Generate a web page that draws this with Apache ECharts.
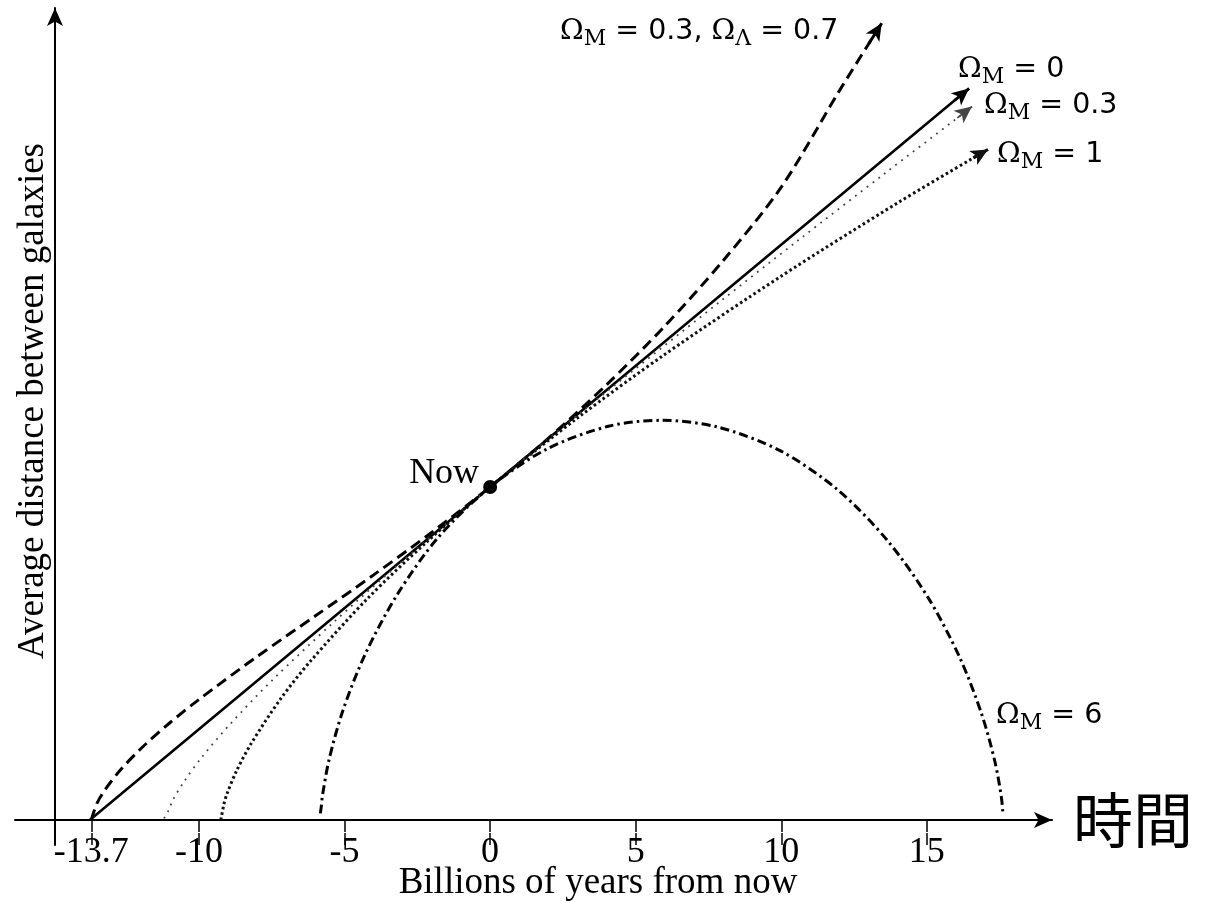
<!DOCTYPE html>
<html>
<head>
<meta charset="utf-8">
<script src="https://cdn.jsdelivr.net/npm/echarts@6/dist/echarts.min.js"></script>
<style>html,body{margin:0;padding:0;background:#fff}#c{width:1221px;height:901px}</style>
</head>
<body>
<div id="c"></div>
<script>
// Time in billions of years from now (x), average distance between galaxies relative to now (y)
const tickValues = [-13.7, -10, -5, 0, 5, 10, 15];
const omega0 = [[-13.75, 0], [0, 1], [15.95, 2.16], [16.45, 2.196]];
const omega03 = [[-11.2, 0.005], [-11.06, 0.027], [-10.88, 0.063], [-10.51, 0.116], [-9.89, 0.19], [-8.91, 0.29], [-7.47, 0.421], [-5.4, 0.592], [-3.18, 0.765], [0, 1], [3.29, 1.236], [7.86, 1.554], [10.56, 1.739], [13.58, 1.943], [16.05, 2.108], [16.55, 2.142]];
const omega1 = [[-9.25, 0], [-9.14, 0.049], [-9.04, 0.078], [-8.73, 0.144], [-8.22, 0.228], [-7.21, 0.362], [-6.2, 0.474], [-4.2, 0.666], [-2.2, 0.833], [0, 1], [3, 1.207], [6, 1.398], [10, 1.633], [14, 1.853], [16.6, 1.988], [17.1, 2.013]];
const omega6 = [[-5.83, 0.02], [-5.8, 0.04], [-5.76, 0.073], [-5.53, 0.182], [-5.06, 0.328], [-4.29, 0.498], [-3.19, 0.677], [-1.77, 0.85], [0, 1], [1.95, 1.114], [4.1, 1.183], [5.89, 1.2], [7.81, 1.18], [9.96, 1.109], [11.93, 0.992], [13.64, 0.84], [15.05, 0.667], [16.13, 0.488], [16.88, 0.319], [17.34, 0.175], [17.56, 0.069], [17.61, 0.024]];
const lambdaCDM = [[-13.7, 0], [-13.5, 0.051], [-13.2, 0.094], [-12.7, 0.15], [-12, 0.214], [-11, 0.292], [-10, 0.362], [-8, 0.491], [-6, 0.613], [-4, 0.736], [-2, 0.864], [0, 1], [2, 1.146], [4, 1.307], [6, 1.483], [8, 1.679], [10, 1.9], [12, 2.19], [13, 2.33], [13.45, 2.392]];
const nowPoint = [[0, 1]];

const chart = echarts.init(document.getElementById('c'), null, {renderer: 'canvas'});

function arrowFor(data, style) {
  const n = data.length;
  return {
    silent: true,
    symbol: ['none', 'arrow'],
    symbolSize: [12, 17],
    label: {show: false},
    lineStyle: style,
    emphasis: {disabled: true},
    data: [[{coord: data[n - 2]}, {coord: data[n - 1]}]]
  };
}

function curve(name, data, style, withArrow, smooth) {
  const s = {
    name: name,
    type: 'line',
    data: data,
    showSymbol: false,
    smooth: smooth,
    lineStyle: style,
    silent: true,
    z: 3
  };
  if (withArrow) s.markLine = arrowFor(data, Object.assign({}, style, {type: 'solid'}));
  return s;
}

const serifFont = 'Liberation Serif';
const labColor = '#444';
const omegaRich = {
  o: {fontFamily: 'DejaVu Serif', fontSize: 28.5, lineHeight: 37, color: labColor, verticalAlign: 'middle'},
  a: {fontFamily: 'DejaVu Sans', fontSize: 28.5, lineHeight: 37, color: labColor, verticalAlign: 'middle'},
  s: {fontFamily: 'DejaVu Serif', fontSize: 22, lineHeight: 22, color: labColor, verticalAlign: 'bottom'}
};
function omegaText(sub, rest) {
  return {text: '{o|Ω}{s|' + sub + '}{a|' + rest + '}', rich: omegaRich, textVerticalAlign: 'middle'};
}

const option = {
  animation: false,
  backgroundColor: '#fff',
  grid: {left: 15, right: 169, top: 8, bottom: 56, containLabel: false},
  xAxis: [{
    type: 'value',
    min: -16.32, max: 19.3,
    axisLine: {show: true, onZero: true, symbol: ['none', 'arrow'], symbolSize: [12, 18], lineStyle: {color: '#000', width: 2}},
    axisTick: {show: true, inside: false, length: 12, customValues: tickValues, lineStyle: {color: '#000', width: 1.5}},
    axisLabel: {show: true, customValues: tickValues, margin: -10, color: '#000', fontFamily: serifFont, fontSize: 36,
      formatter: v => String(v)},
    splitLine: {show: false},
    name: '時間',
    nameLocation: 'end',
    nameGap: 21,
    nameTextStyle: {fontFamily: 'Noto Sans CJK JP', fontSize: 60, color: '#000', verticalAlign: 'middle', padding: [0, 0, 8, 0]}
  }, {
    type: 'value',
    min: -16.32, max: 19.3,
    position: 'bottom',
    axisLine: {show: false, onZero: true},
    axisTick: {show: true, inside: true, length: 12, customValues: tickValues, lineStyle: {color: '#000', width: 1.5}},
    axisLabel: {show: false},
    splitLine: {show: false}
  }],
  yAxis: [{
    type: 'value',
    min: -0.075, max: 2.438,
    offset: -40,
    axisLine: {show: true, onZero: false, symbol: ['none', 'arrow'], symbolSize: [12, 18], lineStyle: {color: '#000', width: 2}},
    axisTick: {show: false},
    axisLabel: {show: false},
    splitLine: {show: false}
  }],
  series: [
    curve('ΩM = 0.3, ΩΛ = 0.7', lambdaCDM, {color: '#000', width: 3, type: [11, 6]}, true, 0.3),
    curve('ΩM = 0', omega0, {color: '#000', width: 2.6, type: 'solid'}, true, false),
    curve('ΩM = 0.3', omega03, {color: '#444', width: 1.8, type: [1.8, 5.5]}, true, 0.3),
    curve('ΩM = 1', omega1, {color: '#111', width: 3, type: [2.6, 2.8]}, true, 0.3),
    curve('ΩM = 6', omega6, {color: '#000', width: 3, type: [9, 4, 2.5, 4]}, false, 0.3),
    {
      name: 'Now', type: 'scatter', data: nowPoint, symbol: 'circle', symbolSize: 14,
      itemStyle: {color: '#000', opacity: 1}, silent: true, z: 5,
      label: {show: true, position: 'left', distance: 4, offset: [0, -13], formatter: 'Now',
        color: '#000', fontFamily: serifFont, fontSize: 36}
    }
  ],
  graphic: [
    {type: 'text', x: 560, y: 32, style: {
      text: '{o|Ω}{s|M}{a| = 0.3, }{o|Ω}{s|Λ}{a| = 0.7}', rich: omegaRich, textVerticalAlign: 'middle'}},
    {type: 'text', x: 958, y: 70, style: omegaText('M', ' = 0')},
    {type: 'text', x: 984, y: 106, style: omegaText('M', ' = 0.3')},
    {type: 'text', x: 997, y: 155, style: omegaText('M', ' = 1')},
    {type: 'text', x: 996, y: 716, style: omegaText('M', ' = 6')},
    {type: 'text', x: 598, y: 883, style: {text: 'Billions of years from now', font: '37px "Liberation Serif"', fill: '#000', textAlign: 'center', textVerticalAlign: 'middle'}},
    {type: 'text', x: 33, y: 401, rotation: Math.PI / 2, style: {text: 'Average distance between galaxies', font: '37px "Liberation Serif"', fill: '#000', textAlign: 'center', textVerticalAlign: 'middle'}}
  ]
};
chart.setOption(option);
</script>
</body>
</html>
